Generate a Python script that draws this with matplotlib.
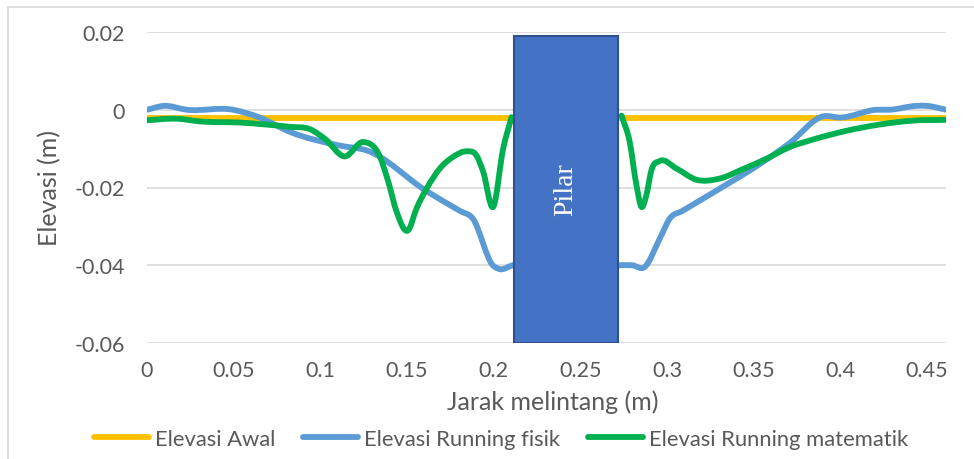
import numpy as np
import matplotlib
matplotlib.use('Agg')
import matplotlib.pyplot as plt
from matplotlib.path import Path
from matplotlib.patches import PathPatch, Rectangle
from matplotlib.lines import Line2D

plt.rcParams['font.family'] = ['Lato', 'DejaVu Sans']
plt.rcParams['axes.unicode_minus'] = False

# data
x_awal = [0.0, 0.461]
y_awal = [-0.002, -0.002]

x_fisik = [0.0, 0.0098, 0.023, 0.0496, 0.065, 0.0825, 0.111, 0.127, 0.1615, 0.1805,
           0.188, 0.1995, 0.2036, 0.211, 0.24, 0.273, 0.280, 0.287, 0.296, 0.3016,
           0.309, 0.371, 0.390, 0.400, 0.421, 0.4285, 0.444, 0.450, 0.461]
y_fisik = [0.0, 0.001, 0.0, 0.0, -0.002, -0.0057, -0.0092, -0.0105, -0.021, -0.026,
           -0.028, -0.040, -0.041, -0.040, -0.040, -0.040, -0.040, -0.0405, -0.033, -0.028,
           -0.026, -0.0085, -0.0017, -0.002, 0.0, 0.0, 0.001, 0.001, 0.0]

x_mat = [0.0, 0.0173, 0.0306, 0.0536, 0.0825, 0.094, 0.1027, 0.114, 0.1248, 0.1344,
         0.1392, 0.144, 0.1507, 0.1555, 0.1613, 0.169, 0.1767, 0.1844, 0.190, 0.194,
         0.1997, 0.2055, 0.2103, 0.2738, 0.2785, 0.2824, 0.2853, 0.2881, 0.291,
         0.2958, 0.3054, 0.317, 0.3304, 0.3437, 0.3574, 0.3708, 0.384, 0.4037, 0.4227,
         0.4418, 0.4614]
y_mat = [-0.0027, -0.0023, -0.003, -0.0033, -0.0044, -0.005, -0.0075, -0.012, -0.0083, -0.0121,
         -0.0185, -0.0262, -0.031, -0.0254, -0.0203, -0.0151, -0.0121, -0.0107, -0.0117, -0.016,
         -0.025, -0.010, -0.0019, -0.0015, -0.0083, -0.0194, -0.025, -0.022, -0.0156,
         -0.0132, -0.0151, -0.018, -0.0177, -0.0153, -0.0126, -0.0096, -0.0077, -0.0054, -0.0038,
         -0.0028, -0.0026]

pilar_x = [0.2117, 0.2716]
pilar_top = 0.019

x_ticks = [0, 0.05, 0.1, 0.15, 0.2, 0.25, 0.3, 0.35, 0.4, 0.45]
y_ticks = [-0.06, -0.04, -0.02, 0, 0.02]

names = ['Elevasi Awal', 'Elevasi Running fisik', 'Elevasi Running matematik']
colors = ['#FFC000', '#5B9BD5', '#00B050']


def smooth_path(xs, ys):
    # smoothed line: bezier segments with 3-point slopes at each point
    x = np.asarray(xs, float)
    y = np.asarray(ys, float)
    h = np.diff(x)
    d = np.diff(y) / h
    m = np.empty_like(x)
    m[0], m[-1] = d[0], d[-1]
    m[1:-1] = (h[:-1] * d[1:] + h[1:] * d[:-1]) / (h[:-1] + h[1:])
    verts = [(x[0], y[0])]
    codes = [Path.MOVETO]
    for i in range(len(x) - 1):
        verts += [(x[i] + h[i] / 3, y[i] + m[i] * h[i] / 3),
                  (x[i + 1] - h[i] / 3, y[i + 1] - m[i + 1] * h[i] / 3),
                  (x[i + 1], y[i + 1])]
        codes += [Path.CURVE4] * 3
    return Path(verts, codes)


fig = plt.figure(figsize=(9.74, 4.60), dpi=100)
ax = fig.add_axes([147 / 974, 1 - 344 / 460, 799 / 974, 311 / 460])

lw = 4.2
ax.plot(x_awal, y_awal, color=colors[0], lw=lw, solid_capstyle='butt', zorder=2)
ax.add_patch(PathPatch(smooth_path(x_fisik, y_fisik), facecolor='none', edgecolor=colors[1],
                       lw=lw, capstyle='round', joinstyle='round', zorder=3))
# green line drawn in two pieces, the part behind the pillar is hidden anyway
xm = np.array(x_mat)
ym = np.array(y_mat)
for sel in [xm < pilar_x[0], xm > pilar_x[1]]:
    ax.add_patch(PathPatch(smooth_path(xm[sel], ym[sel]), facecolor='none', edgecolor=colors[2],
                           lw=lw, capstyle='round', joinstyle='round', zorder=4))

ax.add_patch(Rectangle((pilar_x[0], -0.06), pilar_x[1] - pilar_x[0], pilar_top + 0.06,
                       facecolor='#4472C4', edgecolor='#2F528F', lw=1.5, zorder=5))
ax.text(sum(pilar_x) / 2, -0.0203, 'Pilar', rotation=90, color='white', ha='center',
        va='center', fontsize=20, family=['Liberation Serif'], zorder=6)

ax.set_xlim(0, 0.461)
ax.set_ylim(-0.06, 0.02)
ax.set_xticks(x_ticks)
ax.set_yticks(y_ticks)
ax.set_xticklabels(['%g' % v for v in x_ticks])
ax.set_yticklabels(['%g' % v for v in y_ticks])
ax.tick_params(length=0, labelsize=15.5, labelcolor='#595959')
ax.tick_params(axis='y', pad=16)
ax.tick_params(axis='x', pad=12)
for s in ax.spines.values():
    s.set_visible(False)
ax.grid(axis='y', color='#D9D9D9', lw=1.2, zorder=0)
ax.set_axisbelow(True)

fig.text(553 / 974, 1 - 402 / 460, 'Jarak melintang (m)', ha='center', va='center',
         fontsize=18, color='#595959')
fig.text(50 / 974, 1 - 188 / 460, 'Elevasi (m)', ha='center', va='center', rotation=90,
         fontsize=18, color='#595959')

handles = [Line2D([], [], color=c, lw=lw, solid_capstyle='round') for c in colors]
leg = fig.legend(handles, names, loc='center', bbox_to_anchor=(501 / 974, 1 - 440 / 460),
                 ncol=3, frameon=False, fontsize=15.8, handlelength=2.5, handletextpad=0.25,
                 columnspacing=1.3)
for t in leg.get_texts():
    t.set_color('#595959')

# chart area border
fig.patches.append(Rectangle((8 / 974, -0.1), 1.2, 1.1 - 7.5 / 460, transform=fig.transFigure,
                             facecolor='none', edgecolor='#D9D9D9', lw=1.2))

fig.savefig('out.png', dpi=100)
